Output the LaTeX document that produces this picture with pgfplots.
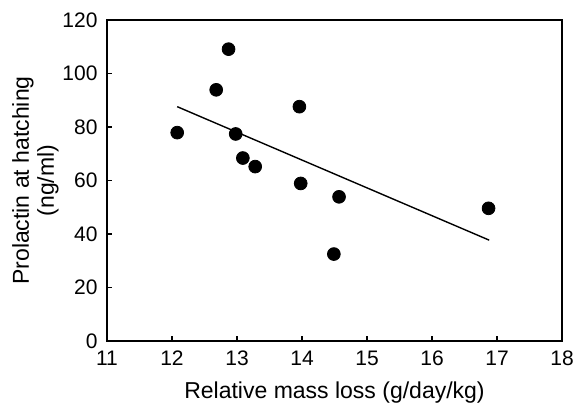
\documentclass[border=0pt]{standalone}
\usepackage{fontspec}
\setmainfont{Liberation Sans}
\usepackage{pgfplots}
\pgfplotsset{compat=1.18}

\begin{document}
\begin{tikzpicture}
\begin{axis}[
  name=ax,
  scale only axis, width=227.5pt, height=160.5pt,
  xmin=11, xmax=18, ymin=0, ymax=120,
  xtick={11,...,18}, ytick={0,20,...,120},
  tick pos=left, tick align=inside, major tick length=2.5pt,
  axis line style={line width=1.2pt}, tick style={line width=0.8pt, black},
  tick label style={font=\fontsize{10.5}{12}\selectfont},
  xticklabel style={yshift=-1.5pt},
  yticklabel style={xshift=-1.2pt},
  /pgf/number format/assume math mode=true,
  xlabel={Relative mass loss (g/day/kg)},
  ylabel={Prolactin at hatching\\(ng/ml)},
  label style={font=\fontsize{11.5}{12.5}\selectfont},
  ylabel style={align=center, yshift=-5pt},
  xlabel style={yshift=-1pt},
  clip=false,
]
% observed points
\addplot[only marks, mark=*, mark size=3.2pt, mark options={fill=black, draw=black}] coordinates {
  (12.08,77.9) (12.68,93.9) (12.87,109.1) (12.98,77.4) (13.09,68.4)
  (13.28,65.2) (13.96,87.6) (13.98,58.9) (14.57,53.9) (14.49,32.5)
  (16.87,49.6)
};
% regression line
\addplot[black, line width=0.7pt] coordinates {(12.08,87.6) (16.88,37.7)};
\end{axis}
\path (ax.south west) ++(-53.5pt,-32.5pt) coordinate (bbl);
\path (ax.north east) ++(9.5pt,10pt) coordinate (bbr);
\useasboundingbox (bbl) rectangle (bbr);
\end{tikzpicture}
\end{document}
